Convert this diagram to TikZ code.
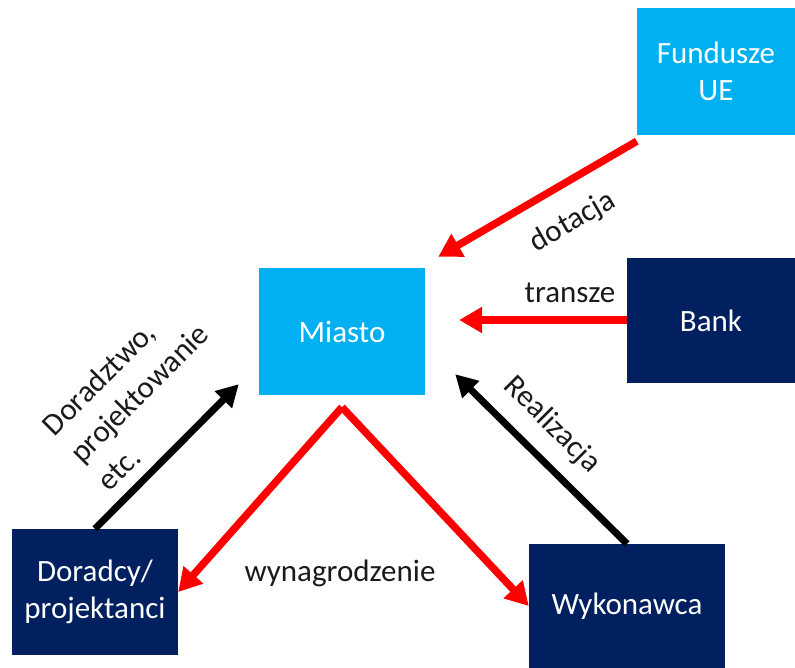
\documentclass[tikz,border=0pt]{standalone}
\usepackage{fontspec}
\setmainfont{Carlito}
\usetikzlibrary{arrows.meta}
\definecolor{skyblue}{HTML}{00B0F0}
\definecolor{navy}{HTML}{002060}
\definecolor{flowred}{HTML}{FF0000}
\definecolor{labelgray}{HTML}{1A1A1A}
\begin{document}
\begin{tikzpicture}[x=1pt,y=-1pt,
  box/.style={rectangle, inner sep=0pt, text=white, align=center,
    font=\fontsize{31}{37}\selectfont},
  lightbox/.style={box, fill=skyblue},
  darkbox/.style={box, fill=navy},
  money/.style={draw=flowred, line width=7.5pt,
    -{Triangle[length=23pt,width=25pt]}},
  service/.style={draw=black, line width=7pt,
    -{Triangle[length=22pt,width=23pt]}},
  lbl/.style={text=labelgray, inner sep=0pt, font=\fontsize{31}{38}\selectfont}]
\useasboundingbox (0,0) rectangle (795,668);

% parties
\node[lightbox, minimum width=158pt, minimum height=127pt] (fund) at (716,71.5) {Fundusze\\UE};
\node[lightbox, minimum width=166pt, minimum height=127pt] (miasto) at (342,331.5) {Miasto};
\node[darkbox, minimum width=168pt, minimum height=125pt] (bank) at (711,320.5) {Bank};
\node[darkbox, minimum width=166pt, minimum height=126pt] (doradcy) at (95,592) {Doradcy/\\projektanci};
\node[darkbox, minimum width=196pt, minimum height=124pt] (wyk) at (627,606) {Wykonawca};

% flows of money
\draw[money] ([shift={(0,6)}]fund.south west) -- ([shift={(13,-11)}]miasto.north east);
\draw[money] (bank.west |- 0,320) -- ([shift={(34,-11.5)}]miasto.east);
\coordinate (apex) at ([shift={(0,12)}]miasto.south);
\draw[money] (apex) -- (doradcy.east);
\draw[money] (apex) -- (wyk.west);

% flows of services
\draw[service] (doradcy.north) -- ([shift={(-20,-11)}]miasto.south west);
\draw[service] (wyk.north) -- ([shift={(30,-21)}]miasto.south east);

% labels
\node[lbl, rotate=30] (ldot) at (573,222) {dotacja};
\node[lbl, anchor=base] (ltr) at (570,303) {transze};
\node[lbl, rotate=45, align=left, font=\fontsize{31}{39}\selectfont] (ldor) at (139,393)
  {Doradztwo,\\projektowanie\\etc.};
\node[lbl, rotate=-45] (lreal) at (552,425) {Realizacja};
\node[lbl, anchor=base] (lwyn) at (340,581) {wynagrodzenie};
\end{tikzpicture}
\end{document}
